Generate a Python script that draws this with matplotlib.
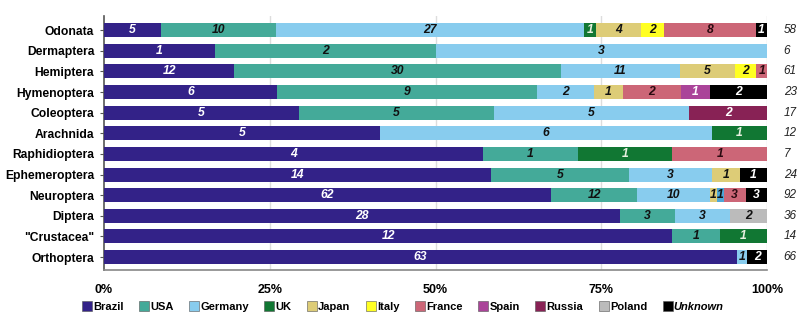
import matplotlib
matplotlib.use("Agg")
import matplotlib.pyplot as plt
from matplotlib.lines import Line2D
import numpy as np

plt.rcParams['font.family'] = ['Liberation Sans', 'DejaVu Sans']

categories = ["Odonata", "Dermaptera", "Hemiptera", "Hymenoptera", "Coleoptera",
              "Arachnida", "Raphidioptera", "Ephemeroptera", "Neuroptera",
              "Diptera", "\"Crustacea\"", "Orthoptera"]

brazil  = [5, 1, 12, 6, 5, 5, 4, 14, 62, 28, 12, 63]
usa     = [10, 2, 30, 9, 5, 0, 1, 5, 12, 3, 1, 0]
germany = [27, 3, 11, 2, 5, 6, 0, 3, 10, 3, 0, 1]
uk      = [1, 0, 0, 0, 0, 1, 1, 0, 0, 0, 1, 0]
japan   = [4, 0, 5, 1, 0, 0, 0, 1, 1, 0, 0, 0]
other_blue = [0, 0, 0, 0, 0, 0, 0, 0, 1, 0, 0, 0]  # unlabelled blue segment in Neuroptera
italy   = [2, 0, 2, 0, 0, 0, 0, 0, 0, 0, 0, 0]
france  = [8, 0, 1, 2, 0, 0, 1, 0, 3, 0, 0, 0]
spain   = [0, 0, 0, 1, 0, 0, 0, 0, 0, 0, 0, 0]
russia  = [0, 0, 0, 0, 2, 0, 0, 0, 0, 0, 0, 0]
poland  = [0, 0, 0, 0, 0, 0, 0, 0, 0, 2, 0, 0]
unknown = [1, 0, 0, 2, 0, 0, 0, 1, 3, 0, 0, 2]

series = [
    ("Brazil", brazil, "#332288", "white", True),
    ("USA", usa, "#44aa99", "#111111", True),
    ("Germany", germany, "#88ccee", "#111111", True),
    ("UK", uk, "#117733", "#e8f0e0", True),
    ("Japan", japan, "#ddcc77", "#111111", True),
    ("other", other_blue, "#4da6d8", "#111111", False),
    ("Italy", italy, "#ffff22", "#111111", True),
    ("France", france, "#cc6677", "#2a0a10", True),
    ("Spain", spain, "#aa4499", "white", True),
    ("Russia", russia, "#882255", "white", True),
    ("Poland", poland, "#bbbbbb", "#111111", True),
    ("Unknown", unknown, "#000000", "white", True),
]

totals = np.sum([np.array(s[1]) for s in series], axis=0)

fig = plt.figure(figsize=(8, 3.29), dpi=100)
ax = fig.add_axes([0.13, 0.179, 0.829, 0.772])

y = np.arange(len(categories))
left = np.zeros(len(categories))
bh = 0.68
for name, vals, col, tcol, inleg in series:
    v = np.array(vals, dtype=float)
    pct = v / totals * 100
    ax.barh(y, pct, left=left, height=bh, color=col, edgecolor='none', zorder=3)
    for i in range(len(categories)):
        if v[i] > 0:
            ax.text(left[i] + pct[i] / 2, y[i], f"{int(v[i])}", ha='center', va='center',
                    color=tcol, fontsize=8.7, fontweight='bold', fontstyle='italic', zorder=4)
    left += pct

for i, t in enumerate(totals):
    ax.text(102.5, y[i], f"{int(t)}", ha='left', va='center', fontsize=8.5,
            fontstyle='italic', color='#222222')

ax.set_ylim(11.63, -0.68)
ax.set_xlim(0, 100)
ax.set_yticks(y)
ax.set_yticklabels(categories, fontsize=8.7, fontweight='bold')
ax.set_xticks([0, 25, 50, 75, 100])
ax.set_xticklabels(["0%", "25%", "50%", "75%", "100%"], fontsize=9, fontweight='bold')
ax.tick_params(axis='y', length=3, pad=4, color='#555555')
ax.tick_params(axis='x', length=0, pad=10)
for x in [25, 50, 75, 100]:
    ax.axvline(x, color='#dddddd', lw=1, zorder=1)
ax.spines['top'].set_visible(False)
ax.spines['right'].set_visible(False)
ax.spines['left'].set_color('#555555')
ax.spines['bottom'].set_color('#888888')
ax.spines['left'].set_linewidth(1.2)
ax.spines['bottom'].set_linewidth(1.2)

handles = []
labels = []
for name, vals, col, tcol, inleg in series:
    if inleg:
        handles.append(Line2D([], [], marker='s', linestyle='none', markersize=6.5,
                              markerfacecolor=col, markeredgecolor='#555555', markeredgewidth=0.4))
        labels.append(name)
leg = fig.legend(handles, labels, loc='center', bbox_to_anchor=(0.503, 0.067), ncol=len(labels),
                 frameon=False, handletextpad=0.05, columnspacing=1.35, handlelength=1.0,
                 prop={'weight': 'bold', 'size': 8})
for t in leg.get_texts():
    if t.get_text() == "Unknown":
        t.set_fontstyle('italic')

fig.savefig("out.png", dpi=100)
